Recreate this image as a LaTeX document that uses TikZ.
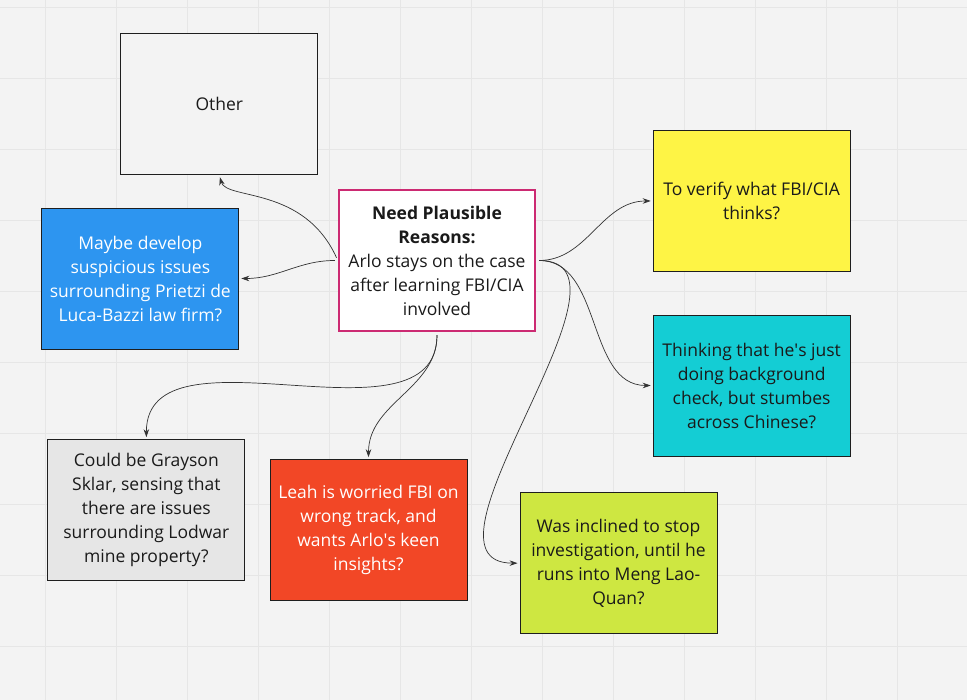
\documentclass[tikz,border=0pt]{standalone}
\usepackage{fontspec}
\setmainfont{Open Sans}
\usetikzlibrary{positioning,arrows.meta}

\definecolor{paper}{HTML}{F3F3F3}
\definecolor{gridLine}{HTML}{E6E6E6}
\definecolor{boxLine}{HTML}{1E1E1E}
\definecolor{linkGray}{HTML}{333333}
\definecolor{noteText}{HTML}{1A1A1A}
\definecolor{centerLine}{HTML}{CC2A72}
\definecolor{noteBlue}{HTML}{2D95F0}
\definecolor{noteYellow}{HTML}{FEF445}
\definecolor{noteCyan}{HTML}{14CDD4}
\definecolor{noteGray}{HTML}{E6E6E6}
\definecolor{noteRed}{HTML}{F24726}
\definecolor{noteGreen}{HTML}{CEE741}

\tikzset{
    noteBox/.style={draw=boxLine, line width=0.9pt, minimum width=197pt, minimum height=141pt,
        inner sep=0pt, align=center, text=noteText, font=\fontsize{17.5}{24}\selectfont},
    link/.style={draw=linkGray, line width=0.7pt, -{Stealth[length=8pt,width=5.5pt]},
        shorten >=2pt, shorten <=3pt},
}

\begin{document}
\begin{tikzpicture}
    \fill[paper] (0,0) rectangle (967pt,700pt);
    \useasboundingbox (0,0) rectangle (967pt,700pt);
    \foreach \k in {0,...,13} {
        \draw[gridLine, line width=0.8pt] (45pt+71pt*\k,0) -- (45pt+71pt*\k,700pt);
    }
    \foreach \k in {0,...,9} {
        \draw[gridLine, line width=0.8pt] (0,693pt-71pt*\k) -- (967pt,693pt-71pt*\k);
    }

    \node[noteBox, draw=centerLine, line width=2.4pt, fill=white, minimum width=196pt] (reasons) at (437pt,439.5pt)
        {\textbf{Need Plausible}\\\textbf{Reasons:}\\Arlo stays on the case\\after learning FBI/CIA\\involved};
    \node[noteBox, fill=paper, above left=13.5pt and 19.5pt of reasons] (other) {Other};
    \node[noteBox, fill=noteBlue, text=white, left=98.5pt of reasons, yshift=-18pt] (lawFirm)
        {Maybe develop\\suspicious issues\\surrounding Prietzi de\\Luca-Bazzi law firm?};
    \node[noteBox, fill=noteYellow, right=116.5pt of reasons, yshift=59.5pt] (verify)
        {To verify what FBI/CIA\\thinks?};
    \node[noteBox, fill=noteCyan, right=116.5pt of reasons, yshift=-125pt] (background)
        {Thinking that he\textquotesingle s just\\doing background\\check, but stumbes\\across Chinese?};
    \node[noteBox, fill=noteGray, below left=107pt and 92.5pt of reasons] (grayson)
        {Could be Grayson\\Sklar, sensing that\\there are issues\\surrounding Lodwar\\mine property?};
    \node[noteBox, fill=noteRed, text=white, below=127pt of reasons, xshift=-68.5pt] (leah)
        {Leah is worried FBI on\\wrong track, and\\wants Arlo\textquotesingle s keen\\insights?};
    \node[noteBox, fill=noteGreen, below=160pt of reasons, xshift=181.5pt] (mengLao)
        {Was inclined to stop\\investigation, until he\\runs into Meng Lao-\\Quan?};

    \draw[link] (reasons.west) .. controls +(-34pt,75pt) and +(7pt,-25pt) .. (other.south);
    \draw[link] (reasons.west) to[out=180,in=0] (lawFirm.east);
    \draw[link] (reasons.east) to[out=0,in=180] (verify.west);
    \draw[link] (reasons.east) to[out=0,in=180] (background.west);
    \draw[link] (reasons.east) to[out=0,in=180] (mengLao.west);
    \draw[link] (reasons.south) to[out=-90,in=90] (grayson.north);
    \draw[link] (reasons.south) to[out=-90,in=90] (leah.north);
\end{tikzpicture}
\end{document}
